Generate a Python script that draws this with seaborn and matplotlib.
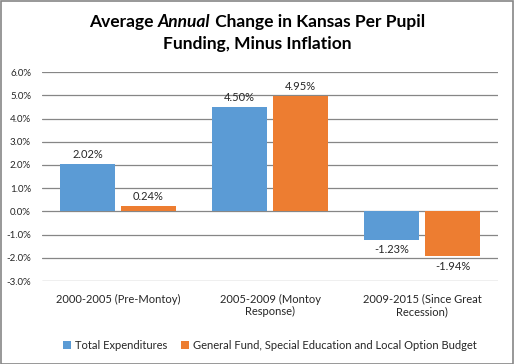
import pandas as pd
import matplotlib
matplotlib.use("Agg")
import matplotlib.pyplot as plt
import seaborn as sns
from matplotlib.patches import Rectangle
from matplotlib.ticker import FuncFormatter

periodos = ["2000-2005 (Pre-Montoy)", "2005-2009 (Montoy\nResponse)",
            "2009-2015 (Since Great\nRecession)"]
series = ["Total Expenditures",
          "General Fund, Special Education and Local Option Budget"]
total_exp = [2.02, 4.50, -1.23]
general_fund = [0.24, 4.95, -1.94]
colores = ["#5B9BD5", "#ED7D31"]

df = pd.DataFrame({
    "periodo": periodos * 2,
    "serie": [series[0]] * 3 + [series[1]] * 3,
    "valor": total_exp + general_fund,
})

sns.set_style("white")
plt.rcParams["font.family"] = ["Lato", "DejaVu Sans"]

fig = plt.figure(figsize=(5.14, 3.64), dpi=100)
ax = fig.add_axes([0.082, 0.228, 0.887, 0.574])

sns.barplot(data=df, x="periodo", y="valor", hue="serie", palette=colores,
            saturation=1, width=0.8, gap=0.1, linewidth=0, ax=ax, legend=True)

ax.set_ylim(-3, 6)
ax.set_yticks(range(-3, 7))
ax.yaxis.set_major_formatter(FuncFormatter(lambda v, p: f"{v:.1f}%"))
ax.grid(axis="y", color="#868686", linewidth=0.9)
ax.set_axisbelow(True)
for s in ax.spines.values():
    s.set_visible(False)
ax.tick_params(axis="y", labelsize=7, length=0, pad=8, colors="#262626")
ax.tick_params(axis="x", labelsize=8, length=0, pad=9, colors="#262626")
for lbl in ax.get_xticklabels():
    lbl.set_multialignment("center")
ax.set_xlabel("")
ax.set_ylabel("")

for cont in ax.containers:
    ax.bar_label(cont, labels=[f"{v:.2f}%" for v in cont.datavalues],
                 fontsize=8, padding=3, color="#262626")

leg = ax.legend(loc="upper center", bbox_to_anchor=(0.5, -0.235), ncol=2,
                frameon=False, fontsize=8, handlelength=0.7, handleheight=0.7,
                handletextpad=0.4, columnspacing=1.2, labelcolor="#262626")

# title with bold italic word
fig.canvas.draw()
r = fig.canvas.get_renderer()
partes = [("Average ", "normal"), ("Annual", "italic"),
          (" Change in Kansas Per Pupil", "normal")]
textos = []
for txt, estilo in partes:
    t = fig.text(0, 0.94, txt, fontsize=12.5, fontweight="bold", style=estilo,
                 ha="left", va="center", color="black")
    textos.append(t)
anchos = [t.get_window_extent(r).width for t in textos]
x = (fig.bbox.width - sum(anchos)) / 2
for t, w in zip(textos, anchos):
    t.set_x(x / fig.bbox.width)
    x += w
fig.text(0.5, 0.879, "Funding, Minus Inflation", fontsize=12.5,
         fontweight="bold", ha="center", va="center", color="black")

fig.patches.append(Rectangle((0.001, 0.001), 0.997, 0.996, transform=fig.transFigure,
                             fill=False, edgecolor="#868686", linewidth=1.2))

fig.savefig("out.png", dpi=100)
